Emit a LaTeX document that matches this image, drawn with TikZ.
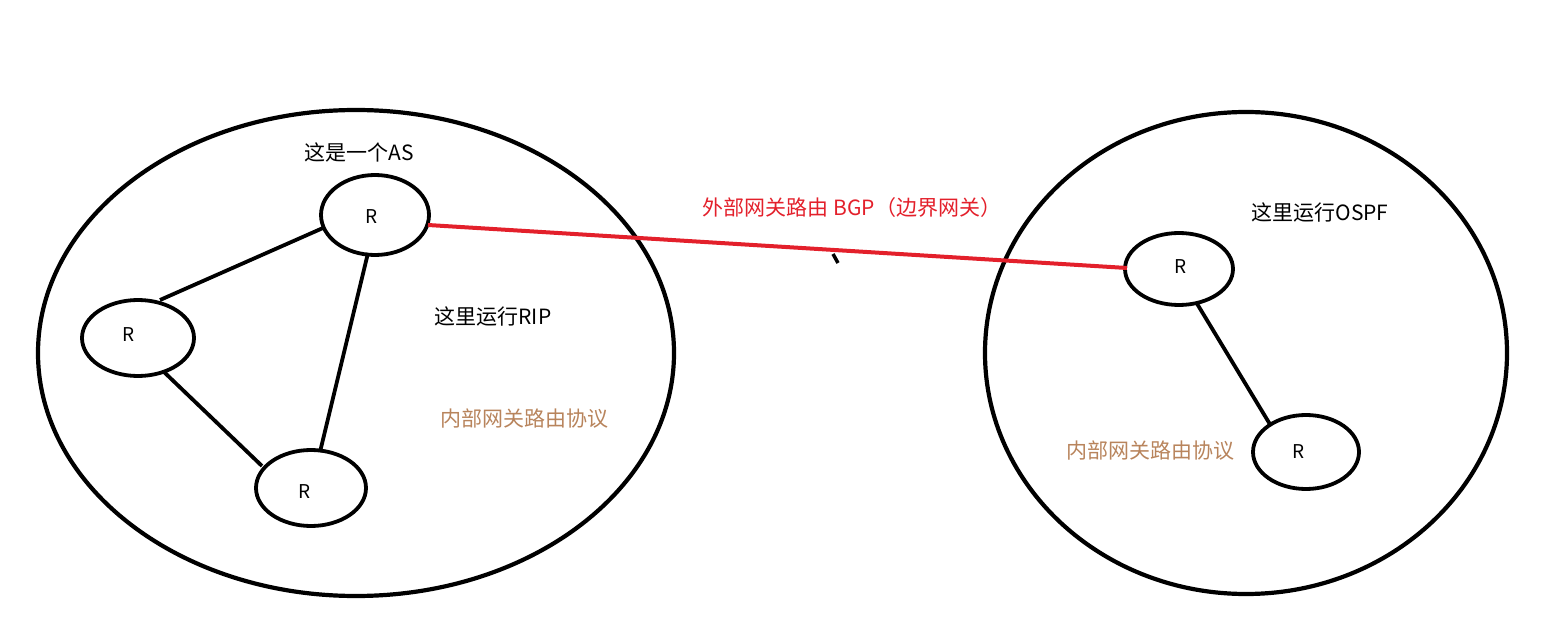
\documentclass[tikz,border=0pt]{standalone}
\usepackage{fontspec}
\setmainfont{Noto Sans CJK SC}
\definecolor{bgpred}{HTML}{E3202B}
\definecolor{igpbrown}{HTML}{B8845C}
\begin{document}
\begin{tikzpicture}[x=1pt,y=-1pt,
  router/.style={draw=black,line width=3.8pt},
  link/.style={draw=black,line width=3.8pt},
  lbl/.style={font=\fontsize{21}{24}\selectfont,inner sep=0pt},
  rlbl/.style={font=\fontsize{19}{21}\selectfont,inner sep=0pt}]
\useasboundingbox (0,0) rectangle (1564,644);
% AS boundaries
\draw[line width=4.2pt] (356,353) ellipse [x radius=318, y radius=243];
\draw[line width=4.2pt] (1246,353) ellipse [x radius=261, y radius=241];
% routers
\draw[router] (375,215) ellipse [x radius=54, y radius=40];
\draw[router] (138,338) ellipse [x radius=56, y radius=38];
\draw[router] (311,488) ellipse [x radius=55, y radius=38];
\draw[router] (1179,269) ellipse [x radius=54, y radius=36];
\draw[router] (1306,452) ellipse [x radius=53, y radius=37];
\node[rlbl] (r1) at (372,217) {R};
\node[rlbl] (r2) at (129,335) {R};
\node[rlbl] (r3) at (305,492) {R};
\node[rlbl] (r4) at (1181,267) {R};
\node[rlbl] (r5) at (1299,452) {R};
\coordinate (a1) at (323,228); \coordinate (a2) at (160,300);
\coordinate (b1) at (368,253); \coordinate (b2) at (320,452);
\coordinate (c1) at (164,372); \coordinate (c2) at (262,466);
\coordinate (d1) at (1196,302); \coordinate (d2) at (1271,426);
\coordinate (e1) at (428,225); \coordinate (e2) at (1127,268);
\coordinate (t1) at (833,254); \coordinate (t2) at (838,263);
\draw[link] (a1) -- (a2);
\draw[link] (b1) -- (b2);
\draw[link] (c1) -- (c2);
\draw[link] (d1) -- (d2);
\draw[draw=bgpred,line width=4pt] (e1) -- (e2);
\draw[line width=3.5pt] (t1) -- (t2);
% texts
\node[lbl] (t_as) at (359,152) {这是一个AS};
\node[lbl] (t_rip) at (493,316) {这里运行RIP};
\node[lbl,text=igpbrown] (t_igp1) at (524,419) {内部网关路由协议};
\node[lbl,text=bgpred] (t_bgp) at (852,208) {外部网关路由 BGP（边界网关）};
\node[lbl] (t_ospf) at (1320,213) {这里运行OSPF};
\node[lbl,text=igpbrown] (t_igp2) at (1150,451) {内部网关路由协议};
\end{tikzpicture}
\end{document}
